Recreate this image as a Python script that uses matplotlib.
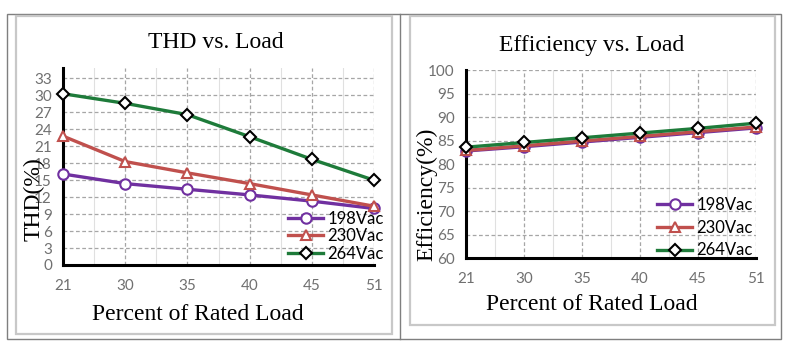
import numpy as np
import matplotlib
matplotlib.use("Agg")
import matplotlib.pyplot as plt
from matplotlib.patches import Rectangle
from matplotlib.lines import Line2D

loads = ["21", "30", "35", "40", "45", "51"]
series = ["198Vac", "230Vac", "264Vac"]
thd_198 = [16.1, 14.4, 13.4, 12.4, 11.3, 10.0]
thd_230 = [22.8, 18.3, 16.3, 14.4, 12.4, 10.4]
thd_264 = [30.3, 28.6, 26.6, 22.7, 18.7, 15.0]
eff_198 = [82.8, 83.7, 84.7, 85.7, 86.7, 87.7]
eff_230 = [82.9, 83.9, 84.9, 85.9, 86.9, 87.9]
eff_264 = [83.6, 84.6, 85.6, 86.6, 87.6, 88.7]

COL = ["#7030A0", "#C0504D", "#1E7B3A"]
EDGE = ["#7030A0", "#C0504D", "black"]
MARK = ["o", "^", "D"]
MS = [7.5, 7.5, 6]
SERIF = ["Liberation Serif", "DejaVu Serif"]
TICKF = ["Lato", "DejaVu Sans"]

W, H = 802, 355
fig = plt.figure(figsize=(W / 100, H / 100), dpi=100)

def px(x0, y0, x1, y1):
    # pixel box (top-left origin) -> figure fraction [l, b, w, h]
    return [x0 / W, 1 - y1 / H, (x1 - x0) / W, (y1 - y0) / H]

def rect(x0, y0, x1, y1, color, lw):
    l, b, w, h = px(x0, y0, x1, y1)
    fig.add_artist(Rectangle((l, b), w, h, transform=fig.transFigure, fill=False,
                             edgecolor=color, lw=lw))

# panel frames
rect(6.7, 14.3, 781, 339, "#7f7f7f", 1.0)
fig.add_artist(Line2D([399.7 / W] * 2, [1 - 14.3 / H, 1 - 339 / H], transform=fig.transFigure,
                      color="#7f7f7f", lw=1.0))
rect(15.7, 16, 392.3, 333.7, "#c8c8c8", 1.6)
rect(409.7, 16, 775, 324.7, "#c8c8c8", 1.6)

def panel(box, data, ylim, yticks, title, ylabel, tpos, xlpos, ylpos, leg_xy, leg_space):
    ax = fig.add_axes(px(*box))
    x = np.arange(len(loads))
    for v, c, e, m, ms, lab in zip(data, COL, EDGE, MARK, MS, series):
        ax.plot(x, v, color=c, lw=2.4, marker=m, ms=ms, mfc="white", mec=e, mew=1.5,
                label=lab, zorder=5, clip_on=False)
    ax.set_xlim(0, len(loads) - 1)
    ax.set_ylim(*ylim)
    ax.set_yticks(yticks)
    ax.set_xticks(x)
    ax.set_xticklabels(loads)
    for xm in x[:-1] + 0.5:
        ax.axvline(xm, color="#e0e0e0", lw=0.8, zorder=0)
    ax.grid(True, ls=(0, (3, 2)), color="#a6a6a6", lw=0.9, zorder=1)
    ax.set_axisbelow(True)
    for s in ["top", "right"]:
        ax.spines[s].set_visible(False)
    for s in ["left", "bottom"]:
        ax.spines[s].set_linewidth(2.2)
        ax.spines[s].set_color("black")
        ax.spines[s].set_zorder(4)
    ax.tick_params(length=0, labelsize=11, labelcolor="#707070")
    ax.tick_params(axis="x", pad=10)
    ax.tick_params(axis="y", pad=8)
    for t in ax.get_xticklabels() + ax.get_yticklabels():
        t.set_family(TICKF)
    fig.text(tpos[0] / W, 1 - tpos[1] / H, title, family=SERIF, fontsize=17,
             ha="center", va="center")
    fig.text(xlpos[0] / W, 1 - xlpos[1] / H, "Percent of Rated Load", family=SERIF,
             fontsize=17, ha="center", va="center")
    fig.text(ylpos[0] / W, 1 - ylpos[1] / H, ylabel, family=SERIF, fontsize=17,
             ha="center", va="center", rotation=90)
    ax.legend(loc="upper left", bbox_to_anchor=(leg_xy[0] / W, 1 - leg_xy[1] / H),
              bbox_transform=fig.transFigure, frameon=False,
              prop={"family": TICKF, "size": 12}, handlelength=2.1,
              handletextpad=0.25, labelspacing=leg_space, borderpad=0, borderaxespad=0)
    return ax

panel((63, 68.3, 374, 265),
      [thd_198, thd_230, thd_264], (0, 34.8), np.arange(0, 34, 3),
      "THD vs. Load", "THD(%)", (216, 43), (198, 314), (34, 199),
      (288, 211), 0.08)
panel((466, 70, 756, 258.3),
      [eff_198, eff_230, eff_264], (60, 100), np.arange(60, 101, 5),
      "Efficiency vs. Load", "Efficiency(%)", (592, 45), (592, 305), (427, 194),
      (657, 197), 0.4)

fig.savefig("out.png", dpi=100, facecolor="white")
